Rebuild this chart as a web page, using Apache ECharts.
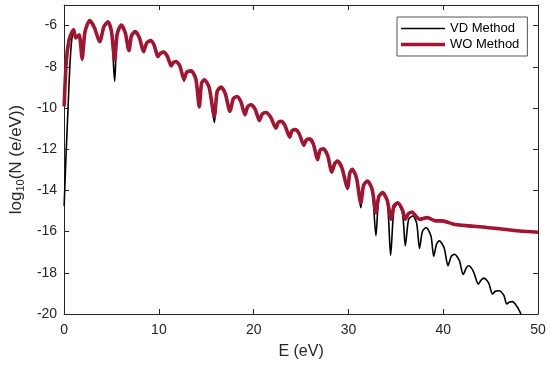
<!DOCTYPE html>
<html>
<head>
<meta charset="utf-8">
<script src="https://cdn.jsdelivr.net/npm/echarts@6/dist/echarts.min.js"></script>
<style>html,body{margin:0;padding:0;background:#fff}#c{width:550px;height:365px}</style>
</head>
<body>
<div id="c"></div>
<script>
// Energy (eV) and log10(N) values
const woE = [0,0.24,0.52,0.77,1.0,1.22,1.58,1.9,2.2,2.7,3.2,3.75,4.2,4.63,5.0,5.33,5.6,6.03,6.45,6.84,7.1,7.5,7.95,8.38,8.7,9.12,9.5,9.89,10.15,10.5,10.9,11.3,11.5,11.8,12.2,12.65,12.95,13.4,13.9,14.26,14.5,14.8,15.3,15.85,16.15,16.56,17.0,17.5,17.85,18.24,18.65,19.08,19.35,19.7,20.15,20.6,20.9,21.3,21.8,22.35,22.6,22.9,23.3,23.8,24.05,24.4,24.8,25.3,25.55,25.9,26.3,26.75,27.0,27.35,27.8,28.25,28.55,28.85,29.3,29.9,30.15,30.4,30.85,31.3,31.6,32.0,32.5,32.9,33.2,33.6,34.1,34.5,34.8,35.2,35.7,36.0,36.3,36.7,37.2,37.5,38.3,39.2,39.9,41.1,44.6,48.1,50];
const woLog = [-9.92,-7.66,-6.69,-6.37,-6.2,-6.6,-6.45,-7.6,-6.3,-5.76,-6.1,-6.78,-6.05,-5.81,-6.3,-7.66,-6.4,-5.97,-6.35,-7.21,-6.5,-6.29,-6.6,-7.26,-6.85,-6.73,-6.95,-7.5,-7.35,-7.29,-7.5,-7.95,-7.8,-7.74,-7.95,-8.6,-8.25,-8.2,-8.6,-9.93,-8.8,-8.63,-9.0,-10.4,-9.2,-8.98,-9.3,-10.16,-9.55,-9.44,-9.7,-10.32,-9.95,-9.84,-10.05,-10.6,-10.3,-10.22,-10.45,-10.97,-10.7,-10.65,-10.85,-11.4,-11.1,-11.05,-11.25,-11.8,-11.55,-11.5,-11.75,-12.5,-12.05,-11.98,-12.3,-13.1,-12.7,-12.58,-12.9,-13.87,-13.15,-12.98,-13.4,-14.6,-13.75,-13.55,-13.95,-15.08,-14.3,-14.11,-14.5,-15.4,-14.75,-14.6,-14.95,-15.4,-15.15,-15.05,-15.3,-15.4,-15.32,-15.48,-15.48,-15.64,-15.8,-15.97,-16.03];

const vdE = [0,0.2,0.42,0.6,0.8,1.0,1.22,1.58,1.9,2.2,2.7,3.2,3.75,4.2,4.63,5.0,5.33,5.6,6.03,6.45,6.84,7.1,7.5,7.95,8.38,8.7,9.12,9.5,9.89,10.15,10.5,10.9,11.3,11.5,11.8,12.2,12.65,12.95,13.4,13.9,14.26,14.5,14.8,15.3,15.85,16.15,16.56,17.0,17.5,17.85,18.24,18.65,19.08,19.35,19.7,20.15,20.6,20.9,21.3,21.8,22.35,22.6,22.9,23.3,23.8,24.05,24.4,24.8,25.3,25.55,25.9,26.3,26.75,27.0,27.35,27.8,28.25,28.55,28.85,29.3,29.9,30.15,30.4,30.85,31.3,31.6,32.0,32.5,32.9,33.2,33.6,34.1,34.45,34.8,35.2,35.7,36.0,36.35,36.8,37.2,37.5,37.8,38.2,38.7,39.0,39.3,39.6,40.1,40.5,40.85,41.2,41.7,42.1,42.45,42.7,43.2,43.7,44.0,44.3,44.8,45.2,45.5,45.9,46.4,46.7,47.0,47.3,47.8,48.2];
const vdLog = [-14.76,-12.3,-9.92,-8.0,-6.7,-6.22,-6.6,-6.45,-7.7,-6.3,-5.76,-6.1,-6.8,-6.05,-5.81,-6.3,-8.71,-6.4,-5.97,-6.35,-7.25,-6.5,-6.29,-6.6,-7.3,-6.85,-6.73,-6.95,-7.55,-7.35,-7.29,-7.5,-8.0,-7.8,-7.74,-7.95,-8.7,-8.25,-8.2,-8.6,-10.0,-8.8,-8.63,-9.0,-10.7,-9.2,-8.98,-9.3,-10.2,-9.55,-9.44,-9.7,-10.36,-9.95,-9.84,-10.05,-10.65,-10.3,-10.22,-10.45,-11.0,-10.7,-10.65,-10.85,-11.45,-11.1,-11.05,-11.25,-11.85,-11.55,-11.5,-11.75,-12.55,-12.05,-11.98,-12.3,-13.15,-12.7,-12.58,-12.9,-13.95,-13.15,-12.98,-13.4,-14.84,-13.75,-13.55,-14.0,-16.2,-14.35,-14.11,-14.55,-17.14,-14.9,-14.65,-15.1,-16.69,-15.4,-15.24,-15.6,-16.82,-16.0,-15.8,-16.2,-17.2,-16.6,-16.45,-16.8,-17.66,-17.2,-17.1,-17.4,-18.08,-17.75,-17.66,-17.95,-18.55,-18.35,-18.26,-18.5,-19.03,-18.9,-18.87,-19.1,-19.51,-19.42,-19.4,-19.65,-20.0];

const seriesNames = ['VD Method', 'WO Method'];
const xTicks = {min: 0, max: 50, step: 10};
const yTicks = {min: -20, max: -5, step: 2};

const txt = '#262626';
const font = 'Liberation Sans, Arial, Helvetica, sans-serif';
const chart = echarts.init(document.getElementById('c'), null, {renderer: 'canvas'});
const axisCommon = {
  axisLine: {show: true, onZero: false, lineStyle: {color: txt, width: 1}},
  axisTick: {show: true, inside: true, length: 5, lineStyle: {color: txt}},
  splitLine: {show: false}
};
chart.setOption({
  animation: false,
  backgroundColor: '#fff',
  grid: {left: 63, right: 12, top: 5, bottom: 50},
  legend: {
    orient: 'vertical', left: 397, top: 17,
    data: [
      {name: seriesNames[0], icon: 'path://M0 0H44V1.6H0Z'},
      {name: seriesNames[1], icon: 'path://M0 0H44V3.6H0Z'}
    ],
    symbolKeepAspect: true,
    backgroundColor: '#fff', borderColor: '#555', borderWidth: 1,
    padding: [5, 8, 5, 4], itemGap: 3, itemWidth: 44, itemHeight: 12,
    textStyle: {fontFamily: font, fontSize: 13, color: '#000'}
  },
  xAxis: [
    Object.assign({type: 'value', min: xTicks.min, max: xTicks.max, interval: xTicks.step,
      name: 'E (eV)', nameLocation: 'middle', nameGap: 30,
      nameTextStyle: {fontFamily: font, fontSize: 16, color: txt},
      axisLabel: {fontFamily: font, fontSize: 14, color: txt, margin: 9}}, axisCommon),
    Object.assign({type: 'value', position: 'top', min: xTicks.min, max: xTicks.max, interval: xTicks.step,
      axisLabel: {show: false}}, axisCommon)
  ],
  yAxis: [
    Object.assign({type: 'value', min: yTicks.min, max: yTicks.max, interval: yTicks.step,
      name: 'log{s|10}(N (e/eV))', nameLocation: 'middle', nameGap: 35, nameRotate: 90,
      nameTextStyle: {fontFamily: font, fontSize: 17, color: txt,
        rich: {s: {fontFamily: font, fontSize: 11, color: txt, verticalAlign: 'bottom', padding: [8, 0, 0, 0]}}},
      axisLabel: {fontFamily: font, fontSize: 14, color: txt, margin: 7,
        formatter: v => (v === yTicks.max ? '' : String(v))}}, axisCommon),
    Object.assign({type: 'value', position: 'right', min: yTicks.min, max: yTicks.max, interval: yTicks.step,
      axisLabel: {show: false}}, axisCommon)
  ],
  series: [
    {name: seriesNames[0], type: 'line', showSymbol: false, symbol: 'none', smooth: 0.25,
      data: vdE.map((e, i) => [e, vdLog[i]]),
      lineStyle: {color: '#000', width: 1.6}, itemStyle: {color: '#000'}, z: 2},
    {name: seriesNames[1], type: 'line', showSymbol: false, symbol: 'none', smooth: 0.25,
      data: woE.map((e, i) => [e, woLog[i]]),
      lineStyle: {color: '#A2142F', width: 3.6}, itemStyle: {color: '#A2142F'}, z: 3}
  ]
});
</script>
</body>
</html>
